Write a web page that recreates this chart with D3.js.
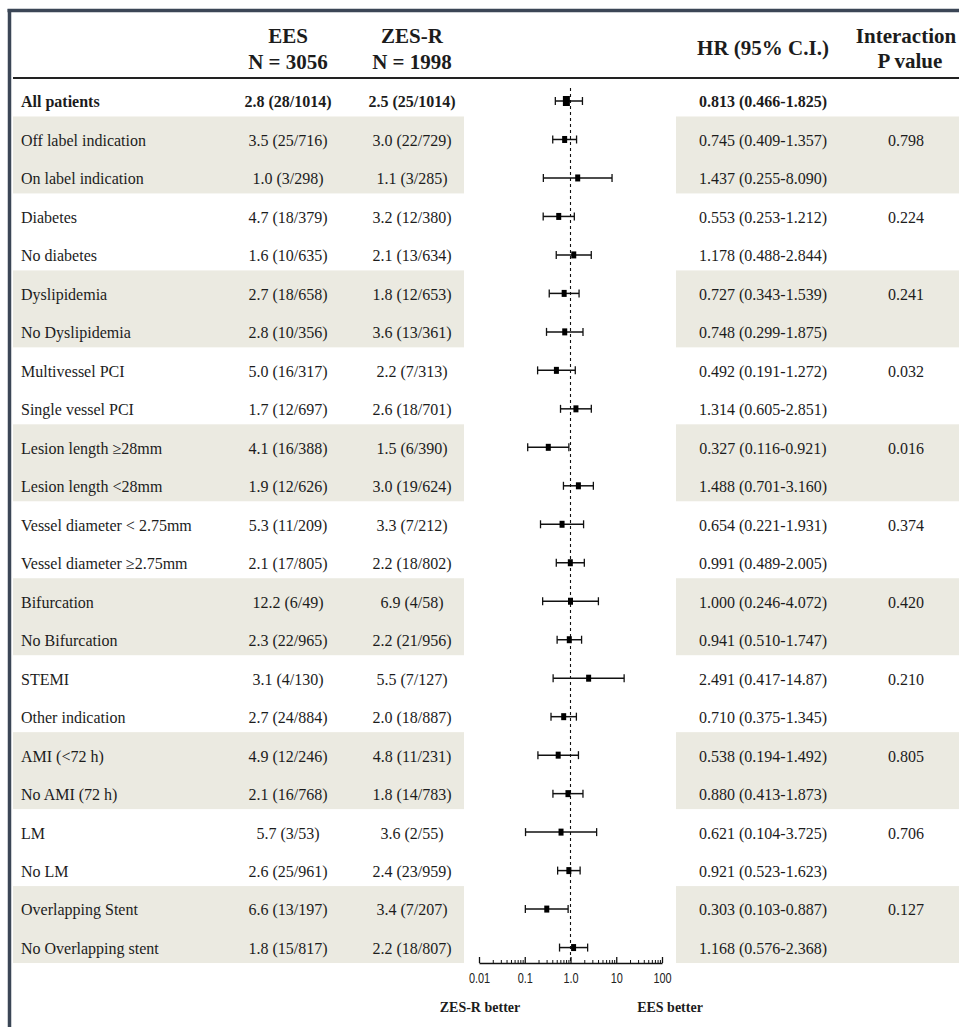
<!DOCTYPE html>
<html>
<head>
<meta charset="utf-8">
<script src="https://cdn.jsdelivr.net/npm/d3@7/dist/d3.min.js"></script>
<style>
  html, body { margin: 0; padding: 0; background: #fff; }
  svg { display: block; }
  .serif { font-family: "Liberation Serif", "Times New Roman", serif; fill: #1c1c1c; }
  .tick text { font-family: "Liberation Sans Narrow", "Arial Narrow", "Liberation Sans", sans-serif; font-size: 14px; fill: #222; }
</style>
</head>
<body>
<svg id="chart" width="959" height="1027"></svg>
<script>
// Subgroup rows (first row is the overall population)
const subgroups = [
  "All patients",
  "Off label indication", "On label indication",
  "Diabetes", "No diabetes",
  "Dyslipidemia", "No Dyslipidemia",
  "Multivessel PCI", "Single vessel PCI",
  "Lesion length \u226528mm", "Lesion length <28mm",
  "Vessel diameter < 2.75mm", "Vessel diameter \u22652.75mm",
  "Bifurcation", "No Bifurcation",
  "STEMI", "Other indication",
  "AMI (<72 h)", "No AMI (72 h)",
  "LM", "No LM",
  "Overlapping Stent", "No Overlapping stent"
];

// Event rate % (events / patients) per arm
const eesRates = [
  "2.8 (28/1014)",
  "3.5 (25/716)", "1.0 (3/298)",
  "4.7 (18/379)", "1.6 (10/635)",
  "2.7 (18/658)", "2.8 (10/356)",
  "5.0 (16/317)", "1.7 (12/697)",
  "4.1 (16/388)", "1.9 (12/626)",
  "5.3 (11/209)", "2.1 (17/805)",
  "12.2 (6/49)", "2.3 (22/965)",
  "3.1 (4/130)", "2.7 (24/884)",
  "4.9 (12/246)", "2.1 (16/768)",
  "5.7 (3/53)", "2.6 (25/961)",
  "6.6 (13/197)", "1.8 (15/817)"
];
const zesRates = [
  "2.5 (25/1014)",
  "3.0 (22/729)", "1.1 (3/285)",
  "3.2 (12/380)", "2.1 (13/634)",
  "1.8 (12/653)", "3.6 (13/361)",
  "2.2 (7/313)", "2.6 (18/701)",
  "1.5 (6/390)", "3.0 (19/624)",
  "3.3 (7/212)", "2.2 (18/802)",
  "6.9 (4/58)", "2.2 (21/956)",
  "5.5 (7/127)", "2.0 (18/887)",
  "4.8 (11/231)", "1.8 (14/783)",
  "3.6 (2/55)", "2.4 (23/959)",
  "3.4 (7/207)", "2.2 (18/807)"
];

// Hazard ratio and 95% confidence limits
const hrEst = ["0.813","0.745","1.437","0.553","1.178","0.727","0.748","0.492","1.314","0.327","1.488",
               "0.654","0.991","1.000","0.941","2.491","0.710","0.538","0.880","0.621","0.921","0.303","1.168"];
const ciLow = ["0.466","0.409","0.255","0.253","0.488","0.343","0.299","0.191","0.605","0.116","0.701",
               "0.221","0.489","0.246","0.510","0.417","0.375","0.194","0.413","0.104","0.523","0.103","0.576"];
const ciHigh = ["1.825","1.357","8.090","1.212","2.844","1.539","1.875","1.272","2.851","0.921","3.160",
                "1.931","2.005","4.072","1.747","14.87","1.345","1.492","1.873","3.725","1.623","0.887","2.368"];

// Interaction p values (shown on the first row of each pair)
const pInteraction = ["", "0.798","", "0.224","", "0.241","", "0.032","", "0.016","",
                      "0.374","", "0.420","", "0.210","", "0.805","", "0.706","", "0.127",""];

// Axis ticks
const majorTicks = [0.01, 0.1, 1, 10, 100];
const tickLabels = ["0.01", "0.1", "1.0", "10", "100"];

const svg = d3.select("#chart");

// Layout
const headerLineY = 78;
const slotH = 38.48;
const textOffset = 24;
const rowY = i => headerLineY + i * slotH + textOffset;
const baseline = i => rowY(i) + 5.4;

const colLabelX = 21;
const colEesX = 288;
const colZesX = 412;
const colHrX = 763;
const colPX = 906;

const x = d3.scaleLog().domain([0.01, 100]).range([479, 662]);
const axisY = 963;

// Shaded bands behind alternating subgroup pairs
const pairs = d3.range(1, subgroups.length, 2).filter((_, k) => k % 2 === 0);
const bands = svg.append("g");
pairs.forEach(i => {
  const y0 = headerLineY + i * slotH;
  bands.append("rect").attr("x", 13).attr("y", y0).attr("width", 451).attr("height", 2 * slotH).attr("fill", "#ebeae1");
  bands.append("rect").attr("x", 676).attr("y", y0).attr("width", 283).attr("height", 2 * slotH).attr("fill", "#ebeae1");
});

// Frame
svg.append("line").attr("x1", 7.5).attr("x2", 959).attr("y1", 10.5).attr("y2", 10.5)
  .attr("stroke", "#3b4656").attr("stroke-width", 3.5);
svg.append("line").attr("x1", 9.5).attr("x2", 9.5).attr("y1", 9).attr("y2", 1027)
  .attr("stroke", "#3b4656").attr("stroke-width", 3.5);

// Header rule
svg.append("line").attr("x1", 13).attr("x2", 959).attr("y1", headerLineY).attr("y2", headerLineY)
  .attr("stroke", "#222").attr("stroke-width", 2);

// Header text
const head = svg.append("g").attr("class", "serif").attr("font-size", 21).attr("font-weight", "bold").attr("text-anchor", "middle");
head.append("text").attr("x", colEesX).attr("y", 42.5).text("EES");
head.append("text").attr("x", colEesX).attr("y", 68.5).text("N = 3056");
head.append("text").attr("x", colZesX).attr("y", 42.5).text("ZES-R");
head.append("text").attr("x", colZesX).attr("y", 68.5).text("N = 1998");
head.append("text").attr("x", colHrX).attr("y", 55).text("HR (95% C.I.)");
head.append("text").attr("x", colPX).attr("y", 42.5).text("Interaction");
head.append("text").attr("x", colPX + 4).attr("y", 68).text("P value");

// Table rows
const rows = svg.append("g").attr("class", "serif").attr("font-size", 16);
subgroups.forEach((name, i) => {
  const g = rows.append("g").attr("font-weight", i === 0 ? "bold" : "normal");
  g.append("text").attr("x", colLabelX).attr("y", baseline(i)).text(name);
  g.append("text").attr("x", colEesX).attr("y", baseline(i)).attr("text-anchor", "middle").text(eesRates[i]);
  g.append("text").attr("x", colZesX).attr("y", baseline(i)).attr("text-anchor", "middle").text(zesRates[i]);
  g.append("text").attr("x", colHrX).attr("y", baseline(i)).attr("text-anchor", "middle")
    .text(`${hrEst[i]} (${ciLow[i]}-${ciHigh[i]})`);
  if (pInteraction[i]) {
    g.append("text").attr("x", colPX).attr("y", baseline(i)).attr("text-anchor", "middle").text(pInteraction[i]);
  }
});

// Reference line at HR = 1
svg.append("line").attr("x1", x(1)).attr("x2", x(1)).attr("y1", 88).attr("y2", axisY)
  .attr("stroke", "#111").attr("stroke-width", 1.1).attr("stroke-dasharray", "3,3");

// Confidence intervals and point estimates
const plot = svg.append("g");
subgroups.forEach((_, i) => {
  const y = rowY(i) - 1;
  const lo = x(+ciLow[i]), hi = x(+ciHigh[i]), est = x(+hrEst[i]);
  const capH = 4;
  plot.append("line").attr("x1", lo).attr("x2", hi).attr("y1", y).attr("y2", y).attr("stroke", "#111").attr("stroke-width", 1.5);
  plot.append("line").attr("x1", lo).attr("x2", lo).attr("y1", y - capH).attr("y2", y + capH).attr("stroke", "#111").attr("stroke-width", 1.3);
  plot.append("line").attr("x1", hi).attr("x2", hi).attr("y1", y - capH).attr("y2", y + capH).attr("stroke", "#111").attr("stroke-width", 1.3);
  const w = i === 0 ? 7 : 5, h = i === 0 ? 10 : 7;
  plot.append("rect").attr("x", est - w / 2).attr("y", y - h / 2).attr("width", w).attr("height", h).attr("fill", "#000");
});

// Log axis: major ticks with labels, minor ticks without
const minorTicks = [];
[0.01, 0.1, 1, 10].forEach(d => { for (let m = 2; m <= 9; m++) minorTicks.push(d * m); });

const axisG = svg.append("g").attr("transform", `translate(0,${axisY})`);
axisG.call(d3.axisBottom(x).tickValues(majorTicks).tickSizeInner(-6).tickSizeOuter(0).tickPadding(10)
  .tickFormat((d, i) => tickLabels[i]));
axisG.select(".domain").attr("stroke", "#111").attr("stroke-width", 1.5);
axisG.selectAll(".tick line").attr("stroke", "#111").attr("stroke-width", 1.3);
// narrow the tick labels horizontally around their tick
axisG.selectAll(".tick text").attr("transform", "scale(0.78,1)");

const minorG = svg.append("g").attr("transform", `translate(0,${axisY})`);
minorG.call(d3.axisBottom(x).tickValues(minorTicks).tickSizeInner(-3).tickSizeOuter(0).tickFormat(""));
minorG.select(".domain").remove();
minorG.selectAll(".tick line").attr("stroke", "#111").attr("stroke-width", 1);

// Direction labels
const dir = svg.append("g").attr("class", "serif").attr("font-size", 14).attr("font-weight", "bold").attr("text-anchor", "middle");
dir.append("text").attr("x", 480).attr("y", 1012).text("ZES-R better");
dir.append("text").attr("x", 670).attr("y", 1012).text("EES better");
</script>
</body>
</html>
